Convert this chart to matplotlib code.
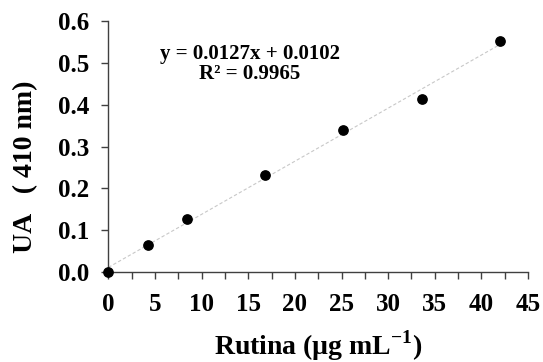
import numpy as np
import matplotlib.pyplot as plt
from matplotlib.ticker import MultipleLocator, FormatStrFormatter

# rutin concentration (ug/mL) and absorbance at 410 nm
conc = [0, 4.2, 8.4, 16.8, 25.2, 33.6, 42.0]
absorb = [0, 0.064, 0.126, 0.232, 0.339, 0.415, 0.553]
eq_text = "y = 0.0127x + 0.0102\nR² = 0.9965"

plt.rcParams['font.family'] = ['Liberation Serif', 'DejaVu Serif']
plt.rcParams['font.weight'] = 'bold'
plt.rcParams['mathtext.fontset'] = 'custom'
plt.rcParams['mathtext.rm'] = 'Liberation Serif:bold'
plt.rcParams['mathtext.bf'] = 'Liberation Serif:bold'

fig = plt.figure(figsize=(5.43, 3.62), dpi=100)
ax = fig.add_axes([0.1998, 0.2494, 0.7726, 0.6918])

# linear trendline
slope, intercept = np.polyfit(conc, absorb, 1)
xs = np.array([min(conc), max(conc)])
ax.plot(xs, slope * xs + intercept, color='#c8c8c8', lw=0.8, ls=(0, (3, 2)), zorder=1)
ax.scatter(conc, absorb, s=45, color='black', zorder=3, clip_on=False)

ax.set_xlim(0, 45)
ax.set_ylim(0, 0.6)
ax.xaxis.set_major_locator(MultipleLocator(5))
ax.xaxis.set_minor_locator(MultipleLocator(2.5))
ax.yaxis.set_major_locator(MultipleLocator(0.1))
ax.yaxis.set_major_formatter(FormatStrFormatter('%.1f'))

for s in ['top', 'right']:
    ax.spines[s].set_visible(False)
for s in ['left', 'bottom']:
    ax.spines[s].set_color('#404040')
    ax.spines[s].set_linewidth(1.0)

ax.tick_params(axis='both', which='both', direction='out', color='#404040', width=1.0, length=5)
ax.tick_params(axis='both', which='major', labelsize=18, pad=8.5)
ax.tick_params(axis='x', which='major', pad=10)

for lbl in ax.get_xticklabels() + ax.get_yticklabels():
    lbl.set_fontweight('bold')

ax.set_xlabel('Rutina (µg mL$^{-1}$)', fontsize=20, fontweight='bold', labelpad=9)
ax.set_ylabel('UA   ( 410 nm)', fontsize=20, fontweight='bold')
ax.yaxis.set_label_coords(-0.167, 0.42)

ax.text(0.337, 0.83, eq_text, transform=ax.transAxes, ha='center', va='center',
        fontsize=15, fontweight='bold', linespacing=1.0)

fig.savefig('out.png', dpi=100)
